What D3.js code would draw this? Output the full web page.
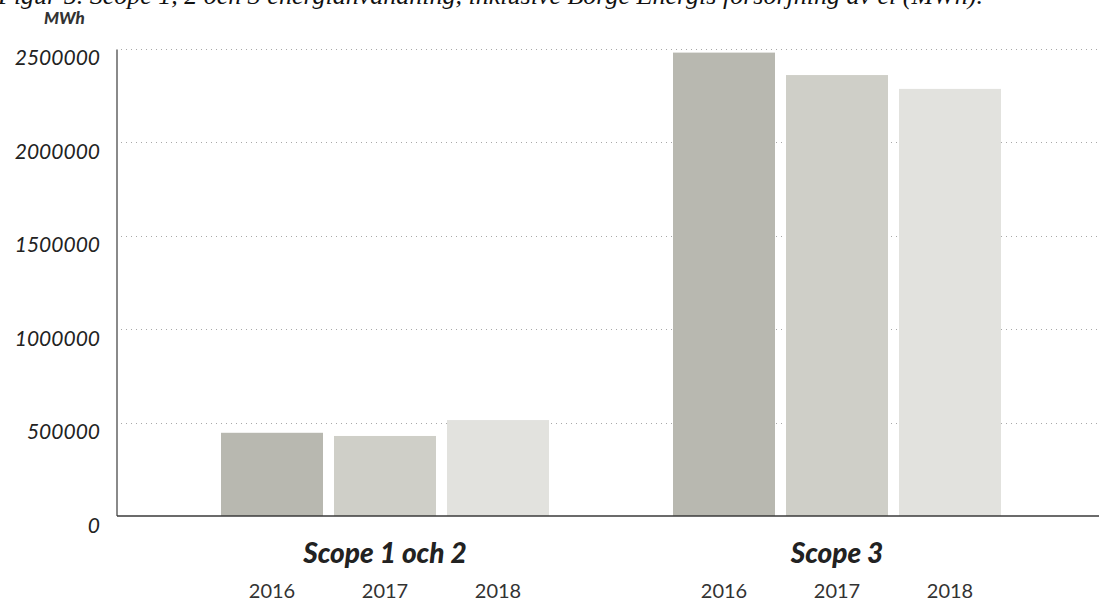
<!DOCTYPE html>
<html>
<head>
<meta charset="utf-8">
<script src="https://cdn.jsdelivr.net/npm/d3@7"></script>
<style>
  body { margin: 0; background: #fff; }
  svg { display: block; }
</style>
</head>
<body>
<svg id="chart" width="1099" height="602"></svg>
<script>
"use strict";

// chart data
let groups = ["Scope 1 och 2", "Scope 3"];
let years = ["2016", "2017", "2018"];
let scope12 = [445000, 428000, 513000];
let scope3 = [2478000, 2358000, 2284000];
let yTicks = [0, 500000, 1000000, 1500000, 2000000, 2500000];
let barColors = ["#b8b8b0", "#cfcfc8", "#e2e2de"];

let width = 1099;
let height = 602;
let svg = d3.select("#chart");

let rows = groups.map((g, i) => ({
    group: g,
    values: (i === 0 ? scope12 : scope3).map((v, j) => ({ year: years[j], value: v }))
}));

// Scales
let axisX = 117;
let y = d3.scaleLinear()
    .domain([0, 2500000])
    .range([516, 48.5]);

let x0 = d3.scaleBand()
    .domain(groups)
    .range([123, 1099])
    .paddingInner(1 - 328 / 452)
    .paddingOuter(98 / 452);

let x1 = d3.scaleBand()
    .domain(years)
    .range([0, x0.bandwidth()])
    .paddingInner(11 / 113);

let color = d3.scaleOrdinal().domain(years).range(barColors);

// caption, cut off by the top edge as in the source image
svg.append("text")
    .attr("x", -2)
    .attr("y", 4)
    .style("font-family", "'Liberation Serif', serif")
    .style("font-style", "italic")
    .style("font-size", "26px")
    .style("fill", "#111")
    .text("Figur 5. Scope 1, 2 och 3 energianvändning, inklusive Borge Energis försörjning av el (MWh).");

// unit label
svg.append("text")
    .attr("x", 44)
    .attr("y", 24)
    .style("font-family", "Lato, sans-serif")
    .style("font-weight", "900")
    .style("font-style", "italic")
    .style("font-size", "17px")
    .style("fill", "#333")
    .text("MWh");

// dotted gridlines
svg.append("g")
    .selectAll("line")
    .data(yTicks.filter(d => d > 0))
    .join("line")
    .attr("x1", axisX + 4)
    .attr("x2", 1097)
    .attr("y1", d => Math.round(y(d)) + 0.5)
    .attr("y2", d => Math.round(y(d)) + 0.5)
    .attr("stroke", "#a8a8a8")
    .attr("stroke-width", 1)
    .attr("stroke-dasharray", "1,4");

// bars
let barGroups = svg.append("g")
    .selectAll("g")
    .data(rows)
    .join("g")
    .attr("transform", d => `translate(${x0(d.group)},0)`);

barGroups.selectAll("rect")
    .data(d => d.values)
    .join("rect")
    .attr("x", d => x1(d.year))
    .attr("y", d => y(d.value))
    .attr("width", x1.bandwidth())
    .attr("height", d => y(0) - y(d.value))
    .attr("fill", d => color(d.year));

// y axis labels
let yAxis = d3.axisLeft(y)
    .tickValues(yTicks)
    .tickFormat(d3.format("d"))
    .tickSize(0)
    .tickPadding(17);

let yAxisG = svg.append("g")
    .attr("transform", `translate(${axisX},0)`)
    .call(yAxis);
yAxisG.select(".domain").remove();
yAxisG.selectAll("text")
    .attr("dy", "0.78em")
    .style("font-family", "Lato, sans-serif")
    .style("font-style", "italic")
    .style("font-size", "21px")
    .style("fill", "#222");

// axis lines
svg.append("line")
    .attr("x1", axisX).attr("x2", axisX)
    .attr("y1", y(2500000) + 1).attr("y2", y(0))
    .attr("stroke", "#8a8a8a")
    .attr("stroke-width", 2);

svg.append("line")
    .attr("x1", axisX).attr("x2", width)
    .attr("y1", y(0)).attr("y2", y(0))
    .attr("stroke", "#3a3a3a")
    .attr("stroke-width", 1.5);

// group labels
svg.append("g")
    .selectAll("text")
    .data(groups)
    .join("text")
    .attr("x", d => x0(d) + x0.bandwidth() / 2)
    .attr("y", 563)
    .attr("text-anchor", "middle")
    .style("font-family", "Lato, sans-serif")
    .style("font-weight", "900")
    .style("font-style", "italic")
    .style("font-size", "28px")
    .style("fill", "#222")
    .text(d => d);

// year labels under every bar
barGroups.selectAll(".year")
    .data(d => d.values)
    .join("text")
    .attr("class", "year")
    .attr("x", d => x1(d.year) + x1.bandwidth() / 2)
    .attr("y", 598)
    .attr("text-anchor", "middle")
    .style("font-family", "Lato, sans-serif")
    .style("font-size", "20px")
    .style("fill", "#333")
    .text(d => d.year);
</script>
</body>
</html>
